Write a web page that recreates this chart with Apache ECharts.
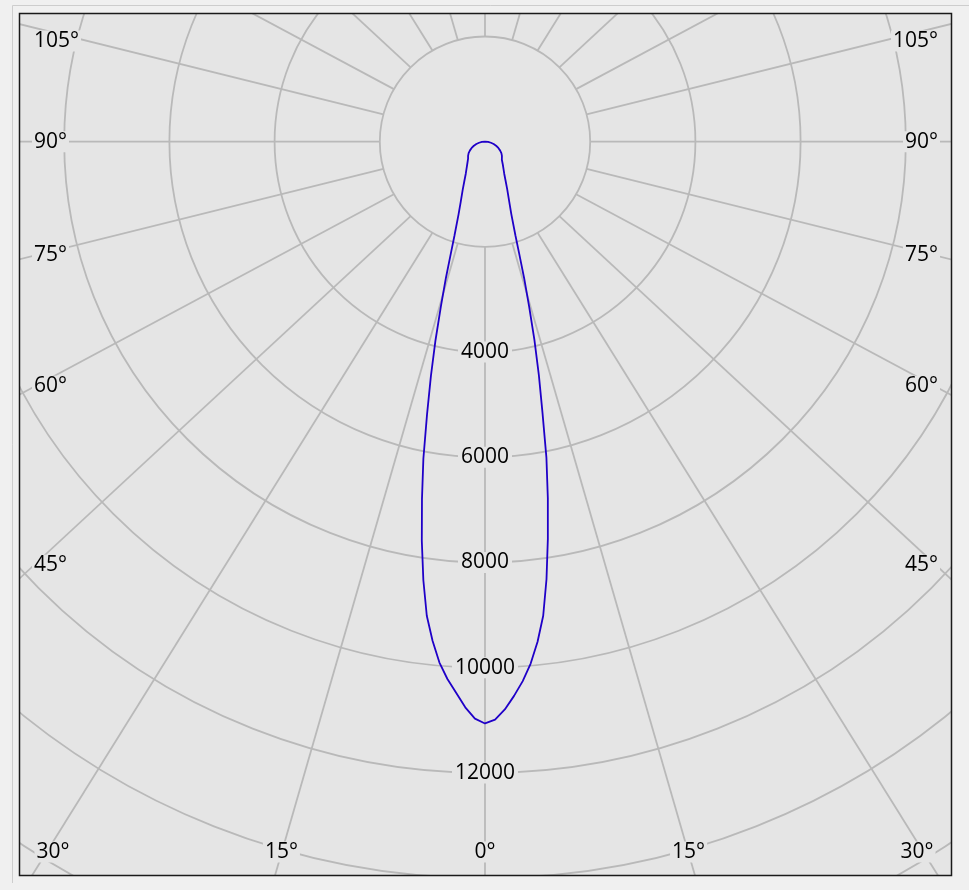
<!DOCTYPE html>
<html><head><meta charset="utf-8">
<script src="https://cdn.jsdelivr.net/npm/echarts@6.0.0/dist/echarts.min.js"></script>
<style>html,body{margin:0;padding:0;background:#f0f0f0;overflow:hidden}#chart{width:969px;height:890px}</style>
</head><body><div id="chart"></div>
<script>
// ---- data: luminous intensity distribution (cd) vs gamma angle (deg from nadir)
const gammaDeg = [0,1,2,3,4,5,6,7,8,9,10,11,12,13,14,15,16,17,18,20,22,25,28,31,34,38,43,45,50,55,60,65,70,75,80,85,90];
const intensityRight = [11060,10990,10800,10550,10280,9960,9560,9080,8400,7640,6880,6120,5250,4550,3880,3240,2700,2220,1870,1460,1230,1000,830,710,630,550,470,455,420,380,330,280,225,170,115,60,0];
const intensityLeft  = [11060,10970,10760,10490,10240,9940,9540,9080,8420,7680,6900,6140,5300,4570,3890,3240,2700,2220,1880,1470,1230,1000,830,710,630,550,470,455,420,380,330,280,225,170,115,60,0];
const ringLabels = [4000,6000,8000,10000,12000];
const angleLabels = [0,15,30,45,60,75,90,105];
const rayAngles = [0,15,30,45,60,75,90,105,120,135,150,165,180,195,210,225,240,255,270,285,300,315,330,345];

// ---- layout
const W = 969, H = 890;
const CX = 485, CY = 141.7, R_PX = 946.8, R_MAX = 18000;
const FX0 = 19, FY0 = 13, FX1 = 952, FY1 = 876;
const K = 0.935;          // vertical compression of the reference's ray grid
const RAY_IN = 2000, RAY_FAR = 17800;
const GRID = '#b9b9b9', BG = '#e5e5e5', FONT = '"Open Sans", "Noto Sans", sans-serif';

const chart = echarts.init(document.getElementById('chart'), null, {renderer: 'canvas'});

// curve: C180 on the left (angle value = gamma), C0 on the right (360 - gamma)
const curve = [];
for (let i = gammaDeg.length - 1; i >= 0; i--) curve.push([intensityLeft[i], gammaDeg[i]]);
for (let i = 1; i < gammaDeg.length; i++) curve.push([intensityRight[i], 360 - gammaDeg[i]]);

// rays of the angular grid
const raySeries = rayAngles.map(a => {
  const rad = a * Math.PI / 180;
  const fx = Math.sin(rad), fy = K * Math.cos(rad);
  const farR = RAY_FAR * Math.hypot(fx, fy);
  const farA = (Math.atan2(fx, fy) * 180 / Math.PI + 360) % 360;
  return {
    type: 'line', coordinateSystem: 'polar', polarIndex: 1, silent: true, clip: false,
    symbol: 'none', z: 2, animation: false,
    lineStyle: {color: GRID, width: 1.8},
    data: [[RAY_IN, a], [farR, farA]]
  };
});

// angle labels placed where the rays meet an inset of the frame
function labelEl(a, side) {
  const rad = a * Math.PI / 180;
  const sx = Math.sin(rad), sy = K * Math.cos(rad);
  let x, y, align;
  let ySide = sx > 1e-6 ? CY + (CX - 32) / sx * sy : Infinity;
  if (ySide <= 852) {
    x = side < 0 ? 32 : 940; y = Math.max(41, ySide); align = side < 0 ? 'left' : 'right';
  } else {
    const t = (852 - CY) / sy;
    x = CX + side * t * sx; x = Math.min(917, Math.max(53, x)); y = 852; align = 'center';
  }
  return {type: 'text', x: x, y: y, z: 102, silent: true,
    style: {text: a + '°', font: '21px ' + FONT, fill: '#000', align: align, verticalAlign: 'middle',
            backgroundColor: BG, padding: [0, 2]}};
}
const labelEls = [];
angleLabels.forEach(a => {
  if (a === 0) labelEls.push(labelEl(a, 1));
  else { labelEls.push(labelEl(a, -1)); labelEls.push(labelEl(a, 1)); }
});

const mask = {fill: '#f0f0f0'};
const option = {
  animation: false,
  backgroundColor: '#f0f0f0',
  polar: [
    {center: [CX, CY], radius: R_PX},
    {center: [CX, CY], radius: R_PX}
  ],
  angleAxis: [
    {polarIndex: 0, type: 'value', min: 0, max: 360, interval: 90, startAngle: 270, clockwise: true, z: 0,
     axisLine: {show: false}, axisTick: {show: false}, axisLabel: {show: false}, splitLine: {show: false},
     splitArea: {show: true, areaStyle: {color: [BG]}}},
    {polarIndex: 1, type: 'value', min: 0, max: 360, interval: 90, startAngle: 270, clockwise: true,
     axisLine: {show: false}, axisTick: {show: false}, axisLabel: {show: false}, splitLine: {show: false}}
  ],
  radiusAxis: [
    {polarIndex: 0, type: 'value', min: 0, max: R_MAX, interval: 2000, z: 1,
     axisLine: {show: false}, axisTick: {show: false}, axisLabel: {show: false},
     splitLine: {show: true, lineStyle: {color: GRID, width: 1.8}}},
    {polarIndex: 1, type: 'value', min: 0, max: R_MAX, interval: 2000, z: 10,
     axisLine: {show: false}, axisTick: {show: false}, splitLine: {show: false},
     axisLabel: {show: true, margin: 0, align: 'center', verticalAlign: 'middle',
       fontFamily: FONT, fontSize: 21, color: '#000',
       formatter: v => ringLabels.includes(v) ? String(v) : '',
       backgroundColor: BG, padding: [0, 3]}}
  ],
  series: raySeries.concat([{
    type: 'line', coordinateSystem: 'polar', polarIndex: 1, symbol: 'none', z: 3,
    lineStyle: {color: '#1f00c8', width: 1.8}, data: curve
  }]),
  graphic: {elements: [
    {type: 'rect', z: 100, silent: true, shape: {x: 0, y: 0, width: W, height: FY0}, style: mask},
    {type: 'rect', z: 100, silent: true, shape: {x: 0, y: FY1, width: W, height: H - FY1}, style: mask},
    {type: 'rect', z: 100, silent: true, shape: {x: 0, y: 0, width: FX0, height: H}, style: mask},
    {type: 'rect', z: 100, silent: true, shape: {x: FX1, y: 0, width: W - FX1, height: H}, style: mask},
    {type: 'polyline', z: 101, silent: true, shape: {points: [[12.5, 883], [12.5, 5.5], [W, 5.5]]},
     style: {stroke: '#cdcdcd', lineWidth: 1, fill: null}},
    {type: 'rect', z: 101, silent: true, shape: {x: FX0 + 0.5, y: FY0 + 0.5, width: FX1 - FX0 - 1, height: FY1 - FY0 - 1},
     style: {stroke: '#1a1a1a', lineWidth: 1.5, fill: null}}
  ].concat(labelEls)}
};
chart.setOption(option);
</script>
</body></html>
